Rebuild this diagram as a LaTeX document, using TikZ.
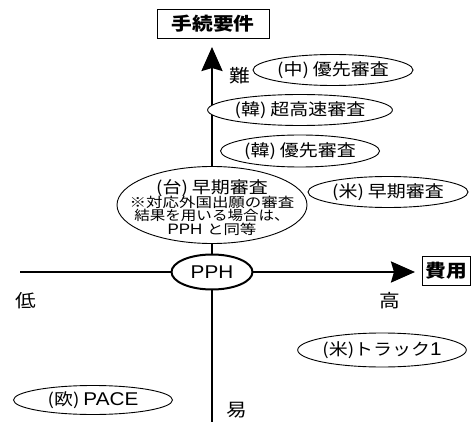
\documentclass[tikz,border=0pt]{standalone}
\usepackage{fontspec}
\setmainfont{Noto Sans CJK JP}[FakeStretch=1.15]
\newfontfamily\notef{Noto Sans CJK JP}[FakeStretch=1.22]
\newfontfamily\latf{Liberation Sans}[FakeStretch=1.12,Scale=1.12]
\usetikzlibrary{arrows.meta,shapes.geometric}
\newcommand\lblsize{\fontsize{16.5}{19}\selectfont}
\newcommand\notesize{\fontsize{13.5}{12}\selectfont}
\newcommand\axsize{\fontsize{18}{20}\selectfont}
\begin{document}
\begin{tikzpicture}[x=1pt,y=-1pt,
  oval/.style 2 args={ellipse, draw, fill=white, line width=0.9pt,
    minimum width=#1, minimum height=#2, inner sep=0pt, font=\lblsize},
  axisline/.style={line width=2.6pt, -{Stealth[length=24pt,width=21pt,inset=3pt]}},
  titlebox/.style={draw, line width=0.8pt, inner sep=0pt, font=\axsize\bfseries},
  axlabel/.style={inner sep=0pt, font=\axsize}]
\useasboundingbox (0,0) rectangle (471,422);
% axis end points
\coordinate (vbot) at (212,422);
\coordinate (vtop) at (212,47);
\coordinate (hleft) at (20,272);
\coordinate (hright) at (415,272);
\draw[axisline] (vbot) -- (vtop);
\draw[axisline] (hleft) -- (hright);
% titles
\node[titlebox, minimum width=112pt, minimum height=29pt] (req) at (213,24) {手続要件};
\node[titlebox, minimum width=48pt, minimum height=29pt, anchor=west] (cost) at (422,271) {費用};
% axis labels
\node[axlabel] (hard) at (240,76) {難};
\node[axlabel] (low) at (26,301) {低};
\node[axlabel] (high) at (390,301) {高};
\node[axlabel] (easy) at (237,410) {易};
% ellipses
\node[oval={160pt}{31pt}] (cn) at (333,70) {(中)\hspace{4pt}優先審査};
\node[oval={159pt}{31pt}] (kr1) at (300,110) {(韓)\hspace{4pt}超高速審査};
\node[oval={159pt}{32pt}] (kr2) at (300,151) {(韓)\hspace{4pt}優先審査};
\node[oval={190pt}{77pt}] (tw) at (212,205) {};
\node[align=center, inner sep=0pt, anchor=north, font=\notesize] (twtext) at (212,179)
  {\lblsize (台)\hspace{4pt}早期審査\\[-1.5pt]
   \notef\notesize ※対応外国出願の審査\\結果を用いる場合は、\\\latf PPH \notef と同等};
\node[oval={160pt}{31pt}] (us1) at (388,192) {(米)\hspace{4pt}早期審査};
\node[oval={81pt}{35pt}, line width=2pt] (pph) at (212,272) {\latf PPH};
\node[oval={160pt}{34pt}] (us2) at (382,350) {(米)トラック{\latf 1}};
\node[oval={159pt}{29pt}] (eu) at (93,400) {(欧)\hspace{4pt}{\latf PACE}};
\end{tikzpicture}
\end{document}
